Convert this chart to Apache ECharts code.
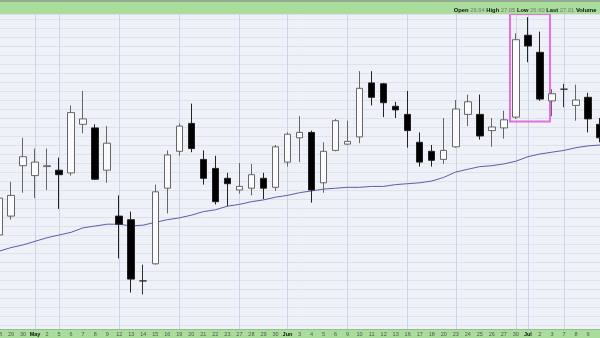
<!DOCTYPE html>
<html>
<head>
<meta charset="utf-8">
<script src="https://cdn.jsdelivr.net/npm/echarts@6/dist/echarts.min.js"></script>
<style>
html,body{margin:0;padding:0;background:#eef1f7;}
#c{width:600px;height:338px;}
</style>
</head>
<body>
<div id="c"></div>
<script>
// ---- data ----
const dates = ['2025-04-28','2025-04-29','2025-04-30','2025-05-01','2025-05-02','2025-05-05','2025-05-06','2025-05-07','2025-05-08','2025-05-09',
'2025-05-12','2025-05-13','2025-05-14','2025-05-15','2025-05-16','2025-05-19','2025-05-20','2025-05-21','2025-05-22','2025-05-23',
'2025-05-27','2025-05-28','2025-05-29','2025-05-30','2025-06-02','2025-06-03','2025-06-04','2025-06-05','2025-06-06','2025-06-09',
'2025-06-10','2025-06-11','2025-06-12','2025-06-13','2025-06-16','2025-06-17','2025-06-18','2025-06-20','2025-06-23','2025-06-24',
'2025-06-25','2025-06-26','2025-06-27','2025-06-30','2025-07-01','2025-07-02','2025-07-03','2025-07-07','2025-07-08','2025-07-09','2025-07-10'];

const tickLabels = ['28','29','30','May','2','5','6','7','8','9',
'12','13','14','15','16','19','20','21','22','23',
'27','28','29','30','Jun','3','4','5','6','9',
'10','11','12','13','16','17','18','20','23','24',
'25','26','27','30','Jul','2','3','7','8','9','10'];

const monthLabels = ['May','Jun','Jul'];

const openP = [25.00,25.21,25.77,25.66,25.76,25.72,25.69,26.23,26.19,25.72,
25.21,25.17,24.49,24.68,25.52,25.93,26.24,25.84,25.74,25.63,
25.50,25.52,25.63,25.53,25.81,26.08,26.14,25.58,25.94,26.01,
26.09,26.69,26.68,26.43,26.34,26.03,25.93,25.84,25.98,26.34,
26.34,26.16,26.19,26.31,27.22,27.03,26.49,26.62,26.44,26.53,26.23];

const closeP = [25.41,25.44,25.87,25.81,25.77,25.67,26.36,26.29,25.62,26.02,
25.12,24.51,24.49,25.48,25.89,26.21,25.96,25.63,25.37,25.57,
25.54,25.67,25.52,25.98,26.12,26.14,25.50,25.93,26.27,26.04,
26.63,26.53,26.47,26.39,26.16,25.81,25.83,25.94,26.40,26.48,
26.10,26.20,26.28,27.17,27.10,26.51,26.57,26.62,26.50,26.29,26.08];

const lowP = [24.94,25.17,25.47,25.41,25.50,25.29,25.66,26.13,25.61,25.58,
24.74,24.36,24.34,24.67,25.24,25.88,25.92,25.56,25.34,25.32,
25.46,25.44,25.40,25.49,25.76,25.81,25.36,25.47,25.93,26.00,
26.02,26.44,26.31,26.30,25.97,25.76,25.76,25.79,25.97,26.21,
26.06,25.98,26.07,26.29,26.92,26.49,26.32,26.42,26.27,26.14,26.03];

const highP = [25.46,25.59,26.08,25.96,25.96,25.86,26.44,26.60,26.23,26.21,
25.44,25.26,24.67,25.56,25.94,26.24,26.46,25.94,25.88,25.69,
25.80,25.79,25.69,26.00,26.14,26.32,26.16,26.03,26.29,26.27,
26.82,26.82,26.69,26.48,26.60,26.14,26.00,26.30,26.50,26.56,
26.56,26.30,26.38,27.24,27.42,27.26,26.62,26.68,26.67,26.58,26.30];

const movingAvg = [24.82,24.86,24.89,24.93,24.97,25.00,25.03,25.08,25.10,25.12,
25.12,25.10,25.11,25.14,25.17,25.19,25.22,25.26,25.28,25.32,
25.34,25.37,25.39,25.42,25.44,25.47,25.49,25.51,25.52,25.53,
25.53,25.54,25.54,25.56,25.57,25.58,25.60,25.64,25.70,25.73,
25.76,25.77,25.79,25.82,25.87,25.90,25.92,25.94,25.97,25.99,26.00];

// dates where a vertical grid line is drawn (first session of week / month)
const gridLineDates = ['2025-05-01','2025-05-05','2025-05-12','2025-05-19','2025-05-27','2025-06-02',
'2025-06-09','2025-06-16','2025-06-23','2025-06-30','2025-07-01','2025-07-07'];

// highlight box: [from index, top price] -> [to index, bottom price]
const boxFrom = [42.51, 27.46];
const boxTo = [45.84, 26.26];

const headerLabels = ['Open','High','Low','Last','Volume'];
const headerValues = ['26.94','27.05','26.60','27.01',''];

// ---- chart ----
const candles = dates.map((d, i) => [openP[i], closeP[i], lowP[i], highP[i]]);
const lineSet = new Set(gridLineDates.map(d => dates.indexOf(d)));
const headerText = headerLabels.map((l, i) =>
  '{b|' + l + ' }' + (headerValues[i] ? '{v|' + headerValues[i] + ' }' : '')).join('');

const FONT = 'Arial, "Liberation Sans", sans-serif';
const chart = echarts.init(document.getElementById('c'), null, {renderer: 'canvas'});
chart.setOption({
  animation: false,
  backgroundColor: '#eef1f7',
  grid: [
    {left: -1, width: 601, top: 14, bottom: 4, outerBoundsMode: 'none', containLabel: false},
    {left: -1, width: 601, top: 329, height: 1, outerBoundsMode: 'none', containLabel: false}
  ],
  xAxis: [
    {type: 'category', gridIndex: 0, data: dates, boundaryGap: false,
     axisLine: {show: false}, axisTick: {show: false}, axisLabel: {show: false},
     splitLine: {show: true, interval: (i) => lineSet.has(i), lineStyle: {color: '#c8d5e8', width: 1}}},
    {type: 'category', gridIndex: 1, data: dates, boundaryGap: false, position: 'bottom', z: 20,
     axisLine: {show: false}, axisTick: {show: false}, splitLine: {show: false},
     axisLabel: {interval: (i) => i < dates.length - 1, margin: 1, hideOverlap: false,
       formatter: (v, i) => monthLabels.includes(tickLabels[i]) ? '{m|' + tickLabels[i] + '}' : '{d|' + tickLabels[i] + '}',
       rich: {
         m: {fontSize: 5.5, fontWeight: 'bold', color: '#111', fontFamily: FONT},
         d: {fontSize: 5.5, color: '#555', fontFamily: FONT}
       }}},
    {type: 'value', gridIndex: 0, position: 'top', min: 0, max: dates.length - 1, show: false}
  ],
  yAxis: [
    {type: 'value', gridIndex: 0, min: 23.9, max: 27.4556, interval: 0.1,
     axisLine: {show: false}, axisTick: {show: false}, axisLabel: {show: false},
     splitLine: {show: true, lineStyle: {color: '#dde2eb', width: 1}}},
    {type: 'value', gridIndex: 1, show: false}
  ],
  series: [
    {type: 'line', name: 'MA', xAxisIndex: 0, yAxisIndex: 0, data: movingAvg, showSymbol: false,
     lineStyle: {color: '#5d5dab', width: 1}, z: 1, silent: true},
    {type: 'candlestick', xAxisIndex: 0, yAxisIndex: 0, data: candles, barWidth: 7, z: 2,
     itemStyle: {color: '#fbfbfd', color0: '#000000', borderColor: '#666666', borderColor0: '#222222',
                 borderColorDoji: '#333333', borderWidth: 1}},
    {type: 'scatter', xAxisIndex: 2, yAxisIndex: 0, data: [], silent: true,
     markArea: {silent: true, label: {show: false},
       itemStyle: {color: 'rgba(0,0,0,0)', borderColor: '#e36fe3', borderWidth: 2},
       data: [[{coord: boxFrom}, {coord: boxTo}]]}}
  ],
  graphic: [
    {type: 'rect', z: 10, shape: {x: 0, y: 0, width: 600, height: 14}, style: {fill: '#aadc9c'}},
    {type: 'rect', z: 10, shape: {x: 0, y: 0, width: 600, height: 2}, style: {fill: '#93ab92'}},
    {type: 'rect', z: 10, shape: {x: 0, y: 329, width: 600, height: 9}, style: {fill: '#aadc9c'}},
    {type: 'rect', z: 10, shape: {x: 0, y: 329, width: 600, height: 1}, style: {fill: '#94c08b'}},
    {type: 'text', z: 11, x: 598, y: 10.5,
     style: {text: headerText, align: 'right', verticalAlign: 'middle', fontSize: 5.8, fontFamily: FONT,
       rich: {
         b: {fontSize: 5.8, fontWeight: 'bold', fill: '#111', fontFamily: FONT},
         v: {fontSize: 5.8, fill: '#777', fontFamily: FONT}
       }}}
  ]
});
</script>
</body>
</html>
